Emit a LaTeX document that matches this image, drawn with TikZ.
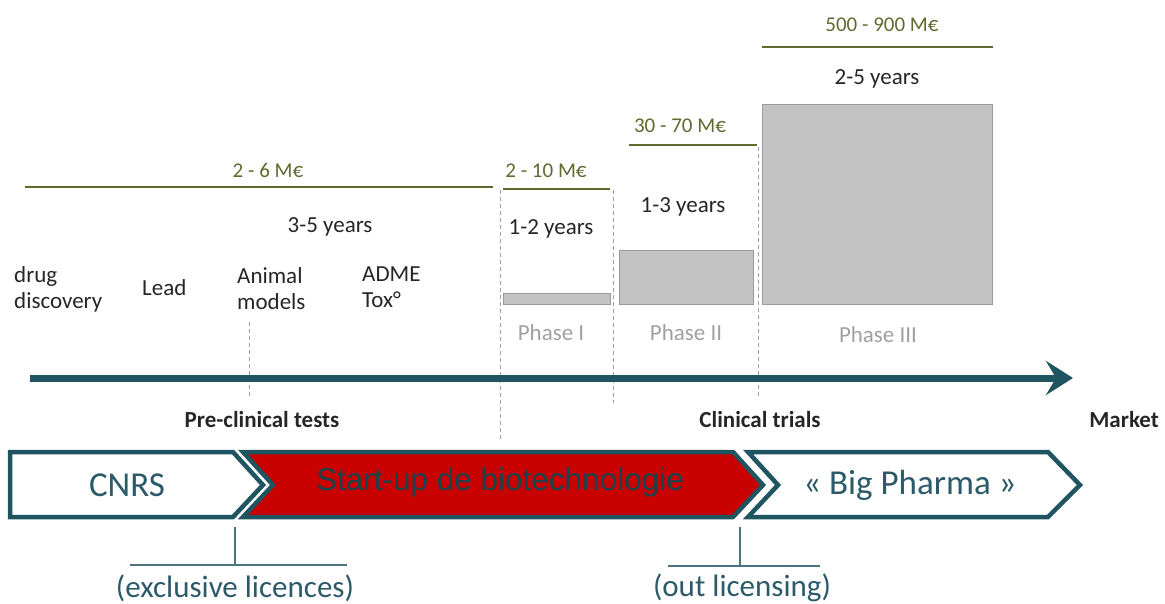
\documentclass[tikz,border=0pt]{standalone}
\usepackage{fontspec}
\setmainfont{Carlito}
\newfontfamily\arialf{Liberation Sans}
\usetikzlibrary{arrows.meta}
\definecolor{teal1}{HTML}{1F5560}
\definecolor{olive1}{HTML}{5E6B2E}
\definecolor{phgray}{HTML}{A0A0A0}
\definecolor{boxfill}{HTML}{C3C3C3}
\definecolor{boxline}{HTML}{9A9A9A}
\definecolor{redfill}{HTML}{C80000}
\definecolor{labteal}{HTML}{2C5A68}
\definecolor{txt}{HTML}{262626}
\tikzset{
  money/.style={text=olive1, font=\fontsize{21}{25}\selectfont, inner sep=0},
  years/.style={text=txt, font=\fontsize{23}{27}\selectfont, inner sep=0},
  phaselab/.style={text=phgray, font=\fontsize{23}{27}\selectfont, inner sep=0},
  stagelab/.style={text=txt, font=\fontsize{23}{26}\selectfont, align=left, anchor=west, inner sep=0},
  costline/.style={draw=olive1, line width=1.6pt},
  guide/.style={draw=phgray, dash pattern=on 4pt off 3pt, line width=0.9pt},
  phasebox/.style={fill=boxfill, draw=boxline, line width=1pt, inner sep=0, anchor=south west},
  boldlab/.style={text=txt, font=\bfseries\fontsize{23}{27}\selectfont, inner sep=0},
  chev/.style={draw=teal1, line width=4.5pt, line join=miter},
  chevtext/.style={text=labteal, font=\fontsize{35}{40}\selectfont, inner sep=0},
  licline/.style={draw=labteal!85, line width=1.4pt},
  lictext/.style={text=labteal, font=\fontsize{31}{36}\selectfont, inner sep=0},
}
\begin{document}
\begin{tikzpicture}[x=1pt,y=-1pt]
\useasboundingbox (0,0) rectangle (1165,604);
% cost lines and labels
\node[money] (m1) at (268,170) {2 - 6 M€};
\coordinate (l1a) at (25,187); \coordinate (l1b) at (493,187);
\draw[costline] (l1a) -- (l1b);
\node[money] (m2) at (546,171) {2 - 10 M€};
\coordinate (l2a) at (503,189); \coordinate (l2b) at (610,189);
\draw[costline] (l2a) -- (l2b);
\node[money] (m3) at (680,126) {30 - 70 M€};
\coordinate (l3a) at (629,145); \coordinate (l3b) at (757,145);
\draw[costline] (l3a) -- (l3b);
\node[money] (m4) at (882,25) {500 - 900 M€};
\coordinate (l4a) at (762,47); \coordinate (l4b) at (993,47);
\draw[costline] (l4a) -- (l4b);
% years
\node[years] (y1) at (330,227) {3-5 years};
\node[years] (y2) at (551,229) {1-2 years};
\node[years] (y3) at (683,207) {1-3 years};
\node[years] (y4) at (877,79) {2-5 years};
% stages
\node[stagelab] (s1) at (14,289) {drug\\discovery};
\node[stagelab] (s2) at (142,288) {Lead};
\node[stagelab] (s3) at (237,289) {Animal\\models};
\node[stagelab] (s4) at (362,287) {ADME\\Tox°};
% phase boxes
\node[phasebox, minimum width=107pt, minimum height=11pt] (p1) at (503,305) {};
\node[phasebox, minimum width=134pt, minimum height=54pt] (p2) at (619,305) {};
\node[phasebox, minimum width=230pt, minimum height=200pt] (p3) at (762,305) {};
\node[phaselab] (ph1) at (551,333) {Phase I};
\node[phaselab] (ph2) at (686,333) {Phase II};
\node[phaselab] (ph3) at (878,335) {Phase III};
% dashed guides
\coordinate (g1a) at (249,322); \coordinate (g1b) at (249,398);
\coordinate (g2a) at (500,190); \coordinate (g2b) at (500,440);
\coordinate (g3a) at (613,190); \coordinate (g3b) at (613,403);
\coordinate (g4a) at (758,147); \coordinate (g4b) at (758,396);
\draw[guide] (g1a) -- (g1b);
\draw[guide] (g2a) -- (g2b);
\draw[guide] (g3a) -- (g3b);
\draw[guide] (g4a) -- (g4b);
% main arrow
\coordinate (as) at (30,378); \coordinate (ae) at (1073,378);
\draw[teal1, line width=7pt, -{Stealth[length=27pt,width=34pt,inset=10pt]}] (as) -- (ae);
\node[boldlab] (b1) at (262,420) {Pre-clinical tests};
\node[boldlab] (b2) at (760,420) {Clinical trials};
\node[boldlab, anchor=east] (b3) at (1159,420) {Market};
% chevrons
\draw[chev, fill=white] (10,452) -- (233,452) -- (263,485) -- (233,517) -- (10,517) -- cycle;
\draw[chev, fill=redfill] (243,452) -- (733,452) -- (763,485) -- (733,517) -- (243,517) -- (273,485) -- cycle;
\draw[chev, fill=white] (748,452) -- (1048,452) -- (1080,485) -- (1048,517) -- (748,517) -- (778,485) -- cycle;
\node[chevtext] (c1) at (127,485) {CNRS};
\node[text=teal1!80!black, font=\arialf\fontsize{31.5}{35}\selectfont, inner sep=0] (c2) at (500,482) {Start-up de biotechnologie};
\node[chevtext] (c3) at (910,485) {« Big Pharma »};
% licences
\coordinate (e1) at (235,527); \coordinate (e2) at (235,565);
\coordinate (e3) at (130,565); \coordinate (e4) at (347,565);
\draw[licline] (e1) -- (e2); \draw[licline] (e3) -- (e4);
\node[lictext] (t1) at (235,588) {(exclusive licences)};
\coordinate (o1) at (740,527); \coordinate (o2) at (740,566);
\coordinate (o3) at (668,566); \coordinate (o4) at (820,566);
\draw[licline] (o1) -- (o2); \draw[licline] (o3) -- (o4);
\node[lictext] (t2) at (742,588) {(out licensing)};
\end{tikzpicture}
\end{document}
